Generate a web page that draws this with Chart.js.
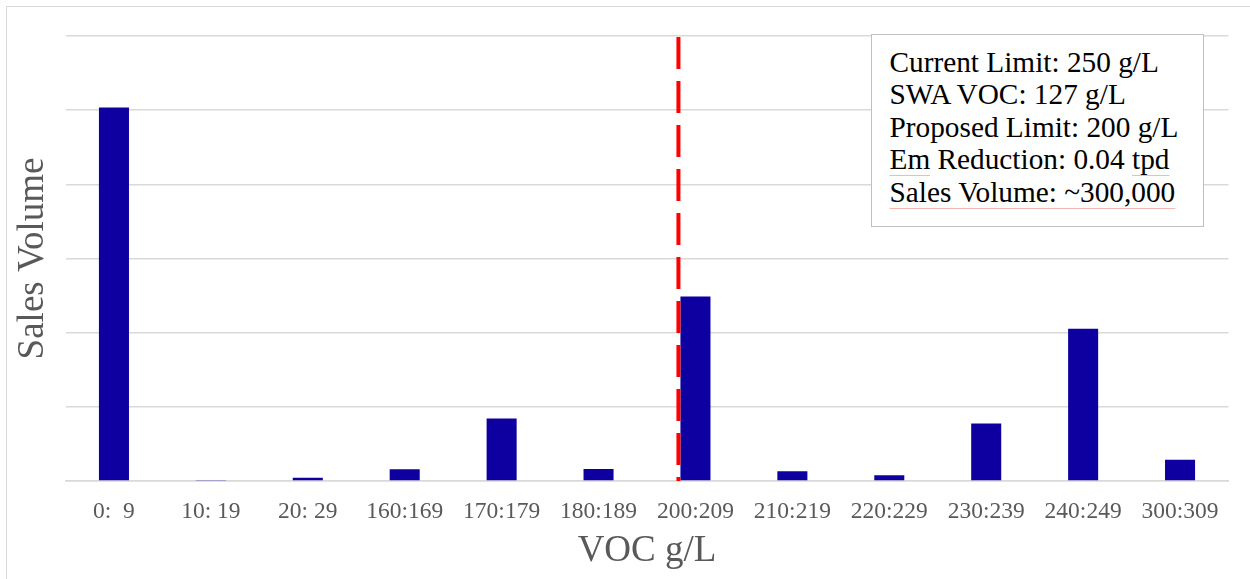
<!DOCTYPE html>
<html>
<head>
<meta charset="utf-8">
<script src="https://cdn.jsdelivr.net/npm/chart.js@4/dist/chart.umd.min.js"></script>
<style>
  html, body { margin: 0; padding: 0; background: #fff; overflow: hidden; }
  #wrap { position: relative; width: 1250px; height: 579px; }
  #frame { position: absolute; left: 6px; top: 6px; width: 1400px; height: 700px;
           border: 1.5px solid #d9d9d9; box-sizing: border-box; pointer-events: none; }
  #note { position: absolute; left: 871px; top: 34px; width: 333px; height: 193px;
          box-sizing: border-box; border: 1.5px solid #bfbfbf; background: #fff;
          padding: 11px 0 0 17.5px; font-family: 'Liberation Serif', 'Times New Roman', serif;
          font-size: 29.3px; line-height: 32.4px; color: #000; white-space: nowrap; }
  .sp { text-decoration: underline; text-decoration-color: rgba(240, 110, 110, 0.5);
        text-decoration-thickness: 1px; text-underline-offset: 6px; }
</style>
</head>
<body>
<div id="wrap">
  <canvas id="voc_sales"></canvas>
  <div id="frame"></div>
  <div id="note">
    Current Limit: 250 g/L<br>
    SWA VOC: 127 g/L<br>
    Proposed Limit: 200 g/L<br>
    <span class="sp">Em</span> Reduction: 0.04 <span class="sp">tpd</span><br>
    <span class="sp">Sales Volume: ~300,000</span>
  </div>
</div>
<script>
"use strict"

// VOC ranges (g/L) and sales volume per range
var voc_ranges = ['0:  9', '10: 19', '20: 29', '160:169', '170:179', '180:189',
                  '200:209', '210:219', '220:229', '230:239', '240:249', '300:309'];
var sales_volume = [125900, 340, 1100, 3950, 21100, 4050, 62200, 3270, 1920, 19340, 51350, 7200];
var y_max = 150000;
var y_step = 25000;
var proposed_limit_range = '200:209';

var serif = "'Liberation Serif', 'Times New Roman', serif";

// red dashed line marking the proposed limit, at the left edge of its bar
var limit_line_plugin = {
    id: 'limitLine',
    afterDatasetsDraw: function (chart) {
        var idx = voc_ranges.indexOf(proposed_limit_range);
        var bar = chart.getDatasetMeta(0).data[idx];
        var area = chart.chartArea;
        var ctx = chart.ctx;
        var x = bar.x - bar.width / 2 - 2;
        ctx.save();
        ctx.strokeStyle = '#ff0000';
        ctx.lineWidth = 4;
        ctx.setLineDash([32, 12]);
        ctx.beginPath();
        ctx.moveTo(x, area.top + 1);
        ctx.lineTo(x, area.bottom);
        ctx.stroke();
        ctx.restore();
    }
};

var voc_config = {
    type: 'bar',
    data: {
        labels: voc_ranges,
        datasets: [{
            data: sales_volume,
            backgroundColor: '#0e00a0',
            borderWidth: 0,
            barPercentage: 0.31,
            categoryPercentage: 1.0
        }]
    },
    options: {
        responsive: true,
        maintainAspectRatio: false,
        animation: false,
        layout: { padding: { left: 0, top: 36, right: 21.5, bottom: 0 } },
        plugins: {
            legend: { display: false },
            tooltip: { enabled: false }
        },
        scales: {
            x: {
                grid: { display: false, drawTicks: false },
                border: { display: true, color: '#d9d9d9', width: 1.5 },
                ticks: { color: '#595959', font: { family: serif, size: 23.5 }, padding: 17, maxRotation: 0, autoSkip: false },
                title: { display: true, text: 'VOC g/L', color: '#595959',
                         font: { family: serif, size: 37 }, padding: { top: 0, bottom: 6 } },
                afterFit: function (scale) { scale.height = 98; }
            },
            y: {
                min: 0,
                max: y_max,
                ticks: { display: false, stepSize: y_step },
                grid: { color: '#d9d9d9', lineWidth: 1.5, drawTicks: false },
                border: { display: false },
                title: { display: true, text: 'Sales Volume', color: '#595959',
                         font: { family: serif, size: 37 }, padding: { top: 11, bottom: 11 } },
                afterFit: function (scale) { scale.width = 65.5; }
            }
        }
    },
    plugins: [limit_line_plugin]
};

var voc_ctx = document.getElementById('voc_sales').getContext('2d');
var voc_chart = new Chart(voc_ctx, voc_config);
</script>
</body>
</html>
